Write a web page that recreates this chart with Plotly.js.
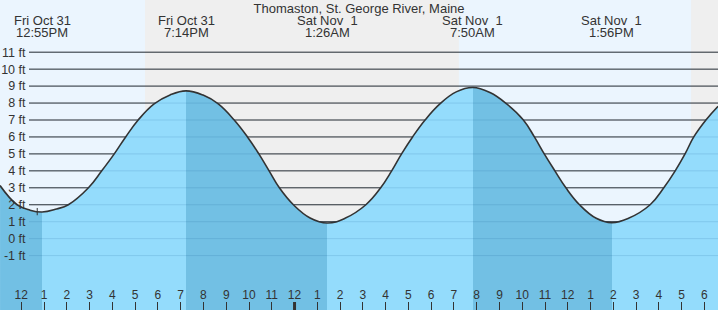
<!DOCTYPE html>
<html>
<head>
<meta charset="utf-8">
<script src="https://cdn.plot.ly/plotly-3.0.1.min.js"></script>
<style>html,body{margin:0;padding:0;background:#ebf5fe;}#chart{width:718px;height:310px;}</style>
</head>
<body>
<div id="chart"></div>
<script>
// Tide heights (ft)
const tideTimes = [
  '2025-10-31 11:04','2025-10-31 11:49','2025-10-31 12:23','2025-10-31 12:55','2025-10-31 13:33',
  '2025-10-31 14:04','2025-10-31 14:57','2025-10-31 15:32','2025-10-31 16:05','2025-10-31 16:35',
  '2025-10-31 17:08','2025-10-31 17:50','2025-10-31 18:32','2025-10-31 19:14','2025-10-31 19:59',
  '2025-10-31 20:39','2025-10-31 21:21','2025-10-31 21:56','2025-10-31 22:26','2025-10-31 22:53',
  '2025-10-31 23:20','2025-10-31 23:57','2025-11-01 00:41','2025-11-01 01:26','2025-11-01 02:13',
  '2025-11-01 03:08','2025-11-01 03:47','2025-11-01 04:16','2025-11-01 04:42','2025-11-01 05:11',
  '2025-11-01 05:44','2025-11-01 06:23','2025-11-01 07:06','2025-11-01 07:50','2025-11-01 08:35',
  '2025-11-01 09:19','2025-11-01 10:03','2025-11-01 10:32','2025-11-01 10:58','2025-11-01 11:26',
  '2025-11-01 11:55','2025-11-01 12:31','2025-11-01 13:15','2025-11-01 13:56','2025-11-01 14:40',
  '2025-11-01 15:37','2025-11-01 16:13','2025-11-01 16:43','2025-11-01 17:09','2025-11-01 17:32',
  '2025-11-01 18:04','2025-11-01 18:36'
];
const tideHeights = [
  3.13, 2.0, 1.68, 1.57, 1.75,
  2.0, 3.0, 4.0, 5.0, 6.0,
  7.0, 7.95, 8.48, 8.72, 8.47,
  7.95, 7.0, 6.0, 5.0, 4.0,
  3.0, 2.0, 1.22, 0.92, 1.2,
  2.0, 3.0, 4.0, 5.0, 6.0,
  7.0, 7.95, 8.66, 8.92, 8.62,
  7.95, 7.0, 6.0, 5.0, 4.0,
  3.0, 2.0, 1.2, 0.94, 1.2,
  2.0, 3.0, 4.0, 5.0, 6.0,
  7.0, 7.81
];

// High / low tide events
const extremeTimes = ['2025-10-31 12:55','2025-10-31 19:14','2025-11-01 01:26','2025-11-01 07:50','2025-11-01 13:56'];
const extremeKinds = ['low','high','low','high','low'];
const extremeDays  = ['Fri Oct 31','Fri Oct 31','Sat Nov\u00a0 1','Sat Nov\u00a0 1','Sat Nov\u00a0 1'];
const extremeClock = ['12:55PM','7:14PM','1:26AM','7:50AM','1:56PM'];

// Night periods (sunset -> sunrise)
const nightStarts = ['2025-10-31 17:26','2025-11-01 17:25'];
const nightEnds   = ['2025-11-01 07:13','2025-11-02 07:00'];

const depthTicks = [-1,0,1,2,3,4,5,6,7,8,9,10,11];
const depthLabels = depthTicks.map(v => v + ' ft');
const nowMarker = '2025-10-31 12:42';
const midnight = '2025-11-01 00:00';
const viewStart = '2025-10-31 11:03:54';
const viewEnd   = '2025-11-01 18:35:49';
const chartTitle = 'Thomaston, St. George River, Maine';

const DAY_BG = '#ebf5fe', NIGHT_BG = '#efefef';
const FLOOD = '#94dcfc', EBB = '#72c0e4';
const INK = '#333333';
const FONT = 'Arial, "Liberation Sans", sans-serif';
const yMin = -4.21, yMax = 14.08;

function ms(s){ return Date.parse(s.replace(' ','T') + 'Z'); }

// horizontal gradient stops: ebb (falling) = dark, flood (rising) = light
const t0 = ms(tideTimes[0]), t1 = ms(tideTimes[tideTimes.length-1]);
const firstColor = extremeKinds[0] === 'low' ? EBB : FLOOD;
const scale = [[0, firstColor]];
let cur = firstColor;
extremeTimes.forEach((t, i) => {
  const f = (ms(t) - t0) / (t1 - t0);
  const next = extremeKinds[i] === 'low' ? FLOOD : EBB;
  scale.push([f, cur]); scale.push([f, next]);
  cur = next;
});
scale.push([1, cur]);

const traces = [
  { x: tideTimes, y: tideTimes.map(() => yMin - 5), mode: 'lines', line: {width: 0}, hoverinfo: 'skip', showlegend: false },
  { x: tideTimes, y: tideHeights, mode: 'lines', fill: 'tonexty', fillcolor: FLOOD,
    fillgradient: {type: 'horizontal', colorscale: scale},
    line: {color: INK, width: 1.6, shape: 'spline', smoothing: 1.2}, hoverinfo: 'x+y', showlegend: false }
];

const shapes = [];
nightStarts.forEach((s, i) => shapes.push({type: 'rect', xref: 'x', yref: 'paper', x0: s, x1: nightEnds[i], y0: 0, y1: 1,
  fillcolor: NIGHT_BG, line: {width: 0}, layer: 'below'}));
depthTicks.forEach(v => shapes.push({type: 'line', xref: 'paper', yref: 'y', x0: 29/718, x1: 1, y0: v, y1: v,
  line: {color: INK, width: 1}, layer: 'below'}));
depthTicks.forEach(v => shapes.push({type: 'line', xref: 'paper', yref: 'y', x0: 29/718, x1: 1, y0: v, y1: v,
  line: {color: 'rgba(0,70,130,0.13)', width: 1}, layer: 'above'}));
shapes.push({type: 'line', xref: 'x', yref: 'paper', x0: midnight, x1: midnight, y0: 0, y1: 8/310,
  line: {color: INK, width: 3}, layer: 'above'});
shapes.push({type: 'line', xref: 'x', yref: 'y', x0: nowMarker, x1: nowMarker, y0: 1.38, y1: 1.81,
  line: {color: INK, width: 1}, layer: 'above'});

const annotations = [];
extremeTimes.forEach((t, i) => {
  annotations.push({x: t, xref: 'x', yref: 'paper', y: 1 - 20.3/310, yanchor: 'middle', xanchor: 'center',
    text: extremeDays[i], showarrow: false, font: {family: FONT, size: 13, color: INK}});
  annotations.push({x: t, xref: 'x', yref: 'paper', y: 1 - 32.3/310, yanchor: 'middle', xanchor: 'center',
    text: extremeClock[i], showarrow: false, font: {family: FONT, size: 13, color: INK}});
});

const layout = {
  width: 718, height: 310,
  margin: {l: 0, r: 0, t: 0, b: 0, pad: 0},
  paper_bgcolor: DAY_BG, plot_bgcolor: DAY_BG,
  showlegend: false,
  font: {family: FONT, size: 12, color: INK},
  title: {text: chartTitle, font: {family: FONT, size: 13, color: INK}, x: 0.5, xref: 'paper',
    y: 1 - 8.5/310, yref: 'container', yanchor: 'middle', xanchor: 'center'},
  xaxis: {type: 'date', range: [viewStart, viewEnd], tick0: '2025-10-31 00:00', dtick: 3600000,
    tickformat: '%-I', ticks: 'inside', ticklen: 8, tickwidth: 1, tickcolor: INK,
    ticklabelposition: 'inside', tickfont: {family: FONT, size: 12, color: INK},
    showgrid: false, zeroline: false, showline: false, fixedrange: true},
  yaxis: {range: [yMin, yMax], tickmode: 'array', tickvals: depthTicks, ticktext: depthLabels, ticks: '',
    anchor: 'free', position: 25.5/718, side: 'left',
    tickfont: {family: FONT, size: 12.5, color: INK},
    showgrid: false, zeroline: false, showline: false, fixedrange: true},
  shapes: shapes,
  annotations: annotations
};

Plotly.newPlot('chart', traces, layout, {displayModeBar: false, staticPlot: true});
</script>
</body>
</html>
